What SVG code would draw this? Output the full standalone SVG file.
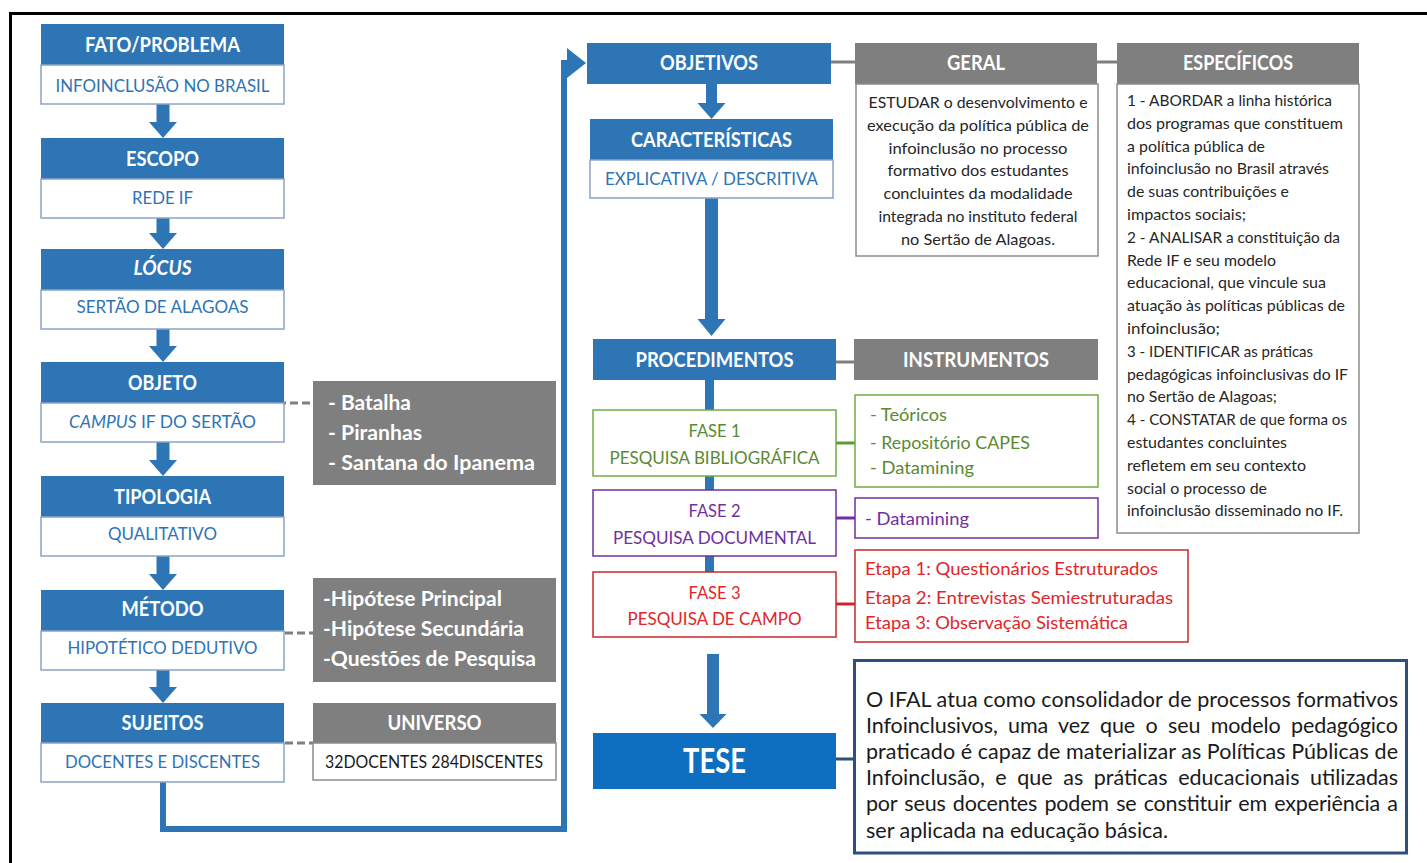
<svg xmlns="http://www.w3.org/2000/svg" width="1427" height="863" viewBox="0 0 1427 863">
<style>
.hdr{fill:#2e75b6}
.wbox{fill:#fff;stroke:#8aa4c6;stroke-width:1.5}
.gbox{fill:#7f7f7f}
.gwh{fill:#fff;stroke:#8c8c8c;stroke-width:1.5}
text{font-family:Lato,"Open Sans","Liberation Sans",sans-serif}
.ht{font-weight:700;font-size:20px;fill:#fff;text-anchor:middle}
.wt{font-size:18px;fill:#2e74b5;text-anchor:middle}
.gl{font-weight:700;font-size:20px;fill:#fff}
.body{font-size:16px;fill:#262626}
.tb{font-size:21.5px;fill:#1a1a1a}
.ctr{text-anchor:middle}
.barrow{fill:#2e75b6}
.dash{stroke:#7f7f7f;stroke-width:3;stroke-dasharray:8 4;fill:none}
.gline{stroke:#7f7f7f;stroke-width:3;fill:none}
.green{fill:#5a8a32}
.purple{fill:#7030a0}
.red{fill:#e0262a}
</style>
<rect x="10.5" y="13.5" width="1430" height="860" fill="none" stroke="#000" stroke-width="3"/>

<g id="connectors">
  <path d="M163,782 V829 H564 V63 H570" fill="none" stroke="#2e75b6" stroke-width="6"/>
  <polygon class="barrow" points="567,48 586,63 567,78"/>
  <polygon class="barrow" points="156.5,104 169.5,104 169.5,122 177,122 163,138 149,122 156.5,122"/>
  <polygon class="barrow" points="156.5,218 169.5,218 169.5,233 177,233 163,249 149,233 156.5,233"/>
  <polygon class="barrow" points="156.5,329 169.5,329 169.5,346 177,346 163,362 149,346 156.5,346"/>
  <polygon class="barrow" points="156.5,442 169.5,442 169.5,460 177,460 163,476 149,460 156.5,460"/>
  <polygon class="barrow" points="156.5,556 169.5,556 169.5,574 177,574 163,590 149,574 156.5,574"/>
  <polygon class="barrow" points="156.5,670 169.5,670 169.5,687 177,687 163,703 149,687 156.5,687"/>
  <polygon class="barrow" points="706,84 717,84 717,103 725.5,103 711.5,119 697.5,103 706,103"/>
  <polygon class="barrow" points="705,198 718,198 718,319 725.5,319 711.5,336 697.5,319 705,319"/>
  <polygon class="barrow" points="707,654 719,654 719,714 726.5,714 713,728 699.5,714 707,714"/>
  <line x1="709.5" y1="380" x2="709.5" y2="572" stroke="#2e75b6" stroke-width="9"/>
  <line class="dash" x1="266" y1="403" x2="313" y2="403"/>
  <line class="dash" x1="285" y1="633" x2="313" y2="633"/>
  <line class="dash" x1="285" y1="743" x2="358" y2="743"/>
  <line class="gline" x1="831" y1="62" x2="855" y2="62"/>
  <line class="gline" x1="1097" y1="62" x2="1117" y2="62"/>
  <line class="gline" x1="836" y1="362" x2="854" y2="362"/>
  <line x1="836" y1="443" x2="855" y2="443" stroke="#5e9a3a" stroke-width="3"/>
  <line x1="836" y1="518" x2="855" y2="518" stroke="#7030a0" stroke-width="3"/>
  <line x1="836" y1="604" x2="855" y2="604" stroke="#c8282d" stroke-width="3"/>
  <line x1="836" y1="759" x2="854" y2="759" stroke="#2f4f7f" stroke-width="3"/>
</g>

<g id="fato">
  <rect class="hdr" x="41" y="24" width="243" height="41"/>
  <rect class="wbox" x="41" y="65" width="243" height="39"/>
  <text class="ht" x="162.5" y="52" textLength="155" lengthAdjust="spacingAndGlyphs">FATO/PROBLEMA</text>
  <text class="wt" x="162.5" y="92" textLength="214" lengthAdjust="spacingAndGlyphs">INFOINCLUSÃO NO BRASIL</text>
</g>
<g id="escopo">
  <rect class="hdr" x="41" y="138" width="243" height="41"/>
  <rect class="wbox" x="41" y="179" width="243" height="39"/>
  <text class="ht" x="162.5" y="166" textLength="73" lengthAdjust="spacingAndGlyphs">ESCOPO</text>
  <text class="wt" x="162.5" y="204" textLength="61" lengthAdjust="spacingAndGlyphs">REDE IF</text>
</g>
<g id="locus">
  <rect class="hdr" x="41" y="249" width="243" height="41"/>
  <rect class="wbox" x="41" y="290" width="243" height="39"/>
  <text class="ht" x="162.5" y="275" font-style="italic" textLength="58" lengthAdjust="spacingAndGlyphs">LÓCUS</text>
  <text class="wt" x="162.5" y="313" textLength="172" lengthAdjust="spacingAndGlyphs">SERTÃO DE ALAGOAS</text>
</g>
<g id="objeto">
  <rect class="hdr" x="41" y="362" width="243" height="41"/>
  <rect class="wbox" x="41" y="403" width="243" height="39"/>
  <text class="ht" x="162.5" y="390" textLength="69" lengthAdjust="spacingAndGlyphs">OBJETO</text>
  <text class="wt" x="162.5" y="427.5" textLength="187" lengthAdjust="spacingAndGlyphs"><tspan font-style="italic">CAMPUS</tspan> IF DO SERTÃO</text>
</g>
<g id="tipologia">
  <rect class="hdr" x="41" y="476" width="243" height="41"/>
  <rect class="wbox" x="41" y="517" width="243" height="39"/>
  <text class="ht" x="162.5" y="504" textLength="97" lengthAdjust="spacingAndGlyphs">TIPOLOGIA</text>
  <text class="wt" x="162.5" y="539.5" textLength="109" lengthAdjust="spacingAndGlyphs">QUALITATIVO</text>
</g>
<g id="metodo">
  <rect class="hdr" x="41" y="590" width="243" height="41"/>
  <rect class="wbox" x="41" y="631" width="243" height="39"/>
  <text class="ht" x="162.5" y="616" textLength="82" lengthAdjust="spacingAndGlyphs">MÉTODO</text>
  <text class="wt" x="162.5" y="653.5" textLength="190" lengthAdjust="spacingAndGlyphs">HIPOTÉTICO DEDUTIVO</text>
</g>
<g id="sujeitos">
  <rect class="hdr" x="41" y="703" width="243" height="40"/>
  <rect class="wbox" x="41" y="743" width="243" height="39"/>
  <text class="ht" x="162.5" y="730" textLength="82" lengthAdjust="spacingAndGlyphs">SUJEITOS</text>
  <text class="wt" x="162.5" y="768" textLength="195" lengthAdjust="spacingAndGlyphs">DOCENTES E DISCENTES</text>
</g>

<g id="campi">
  <rect class="gbox" x="313" y="381" width="243" height="104"/>
  <text class="gl" x="328" y="410" textLength="83" lengthAdjust="spacingAndGlyphs">- Batalha</text>
  <text class="gl" x="328" y="440" textLength="94" lengthAdjust="spacingAndGlyphs">- Piranhas</text>
  <text class="gl" x="328" y="470" textLength="207" lengthAdjust="spacingAndGlyphs">- Santana do Ipanema</text>
</g>
<g id="hipoteses">
  <rect class="gbox" x="313" y="578" width="243" height="104"/>
  <text class="gl" x="323" y="606" textLength="179" lengthAdjust="spacingAndGlyphs">-Hipótese Principal</text>
  <text class="gl" x="323" y="636" textLength="201" lengthAdjust="spacingAndGlyphs">-Hipótese Secundária</text>
  <text class="gl" x="323" y="666" textLength="213" lengthAdjust="spacingAndGlyphs">-Questões de Pesquisa</text>
</g>
<g id="universo">
  <rect class="gbox" x="313" y="703" width="243" height="40"/>
  <rect class="gwh" x="313" y="743" width="243" height="37"/>
  <text class="ht" x="434.5" y="730" textLength="94" lengthAdjust="spacingAndGlyphs">UNIVERSO</text>
  <text x="325" y="768" font-size="17" fill="#1a1a1a" textLength="218" lengthAdjust="spacingAndGlyphs">32DOCENTES  284DISCENTES</text>
</g>

<g id="objetivos">
  <rect class="hdr" x="587" y="43" width="244" height="41"/>
  <text class="ht" x="709" y="70" textLength="98" lengthAdjust="spacingAndGlyphs">OBJETIVOS</text>
</g>
<g id="caracteristicas">
  <rect class="hdr" x="590" y="119" width="243" height="41"/>
  <rect class="wbox" x="590" y="160" width="243" height="38"/>
  <text class="ht" x="711.5" y="147" textLength="161" lengthAdjust="spacingAndGlyphs">CARACTERÍSTICAS</text>
  <text class="wt" x="711.5" y="184.5" textLength="213" lengthAdjust="spacingAndGlyphs">EXPLICATIVA / DESCRITIVA</text>
</g>
<g id="geral">
  <rect class="gbox" x="855" y="43" width="242" height="41"/>
  <rect class="gwh" x="856" y="84" width="242" height="172"/>
  <text class="ht" x="976" y="70" textLength="58" lengthAdjust="spacingAndGlyphs">GERAL</text>
  <text class="body ctr" x="978" y="108" textLength="219" lengthAdjust="spacingAndGlyphs">ESTUDAR o desenvolvimento e</text>
  <text class="body ctr" x="978" y="130.8" textLength="222" lengthAdjust="spacingAndGlyphs">execução da política pública de</text>
  <text class="body ctr" x="978" y="153.6" textLength="179" lengthAdjust="spacingAndGlyphs">infoinclusão no processo</text>
  <text class="body ctr" x="978" y="176.4" textLength="181" lengthAdjust="spacingAndGlyphs">formativo dos estudantes</text>
  <text class="body ctr" x="978" y="199.2" textLength="189" lengthAdjust="spacingAndGlyphs">concluintes da modalidade</text>
  <text class="body ctr" x="978" y="222" textLength="199" lengthAdjust="spacingAndGlyphs">integrada no instituto federal</text>
  <text class="body ctr" x="978" y="244.8" textLength="154" lengthAdjust="spacingAndGlyphs">no Sertão de Alagoas.</text>
</g>
<g id="especificos">
  <rect class="gbox" x="1117" y="43" width="242" height="41"/>
  <rect class="gwh" x="1117" y="84" width="242" height="449"/>
  <text class="ht" x="1238" y="70" textLength="110" lengthAdjust="spacingAndGlyphs">ESPECÍFICOS</text>
  <text class="body" x="1127" y="106" textLength="205" lengthAdjust="spacingAndGlyphs">1 - ABORDAR a linha histórica</text>
  <text class="body" x="1127" y="128.8" textLength="216" lengthAdjust="spacingAndGlyphs">dos programas que constituem</text>
  <text class="body" x="1127" y="151.6" textLength="138" lengthAdjust="spacingAndGlyphs">a política pública de</text>
  <text class="body" x="1127" y="174.4" textLength="202" lengthAdjust="spacingAndGlyphs">infoinclusão no Brasil através</text>
  <text class="body" x="1127" y="197.2" textLength="162" lengthAdjust="spacingAndGlyphs">de suas contribuições e</text>
  <text class="body" x="1127" y="220" textLength="119" lengthAdjust="spacingAndGlyphs">impactos sociais;</text>
  <text class="body" x="1127" y="242.8" textLength="213" lengthAdjust="spacingAndGlyphs">2 - ANALISAR a constituição da</text>
  <text class="body" x="1127" y="265.6" textLength="149" lengthAdjust="spacingAndGlyphs">Rede IF e seu modelo</text>
  <text class="body" x="1127" y="288.4" textLength="199" lengthAdjust="spacingAndGlyphs">educacional, que vincule sua</text>
  <text class="body" x="1127" y="311.2" textLength="218" lengthAdjust="spacingAndGlyphs">atuação às políticas públicas de</text>
  <text class="body" x="1127" y="334" textLength="93" lengthAdjust="spacingAndGlyphs">infoinclusão;</text>
  <text class="body" x="1127" y="356.8" textLength="186" lengthAdjust="spacingAndGlyphs">3 - IDENTIFICAR as práticas</text>
  <text class="body" x="1127" y="379.6" textLength="221" lengthAdjust="spacingAndGlyphs">pedagógicas infoinclusivas do IF</text>
  <text class="body" x="1127" y="402.4" textLength="150" lengthAdjust="spacingAndGlyphs">no Sertão de Alagoas;</text>
  <text class="body" x="1127" y="425.2" textLength="220" lengthAdjust="spacingAndGlyphs">4 - CONSTATAR de que forma os</text>
  <text class="body" x="1127" y="448" textLength="160" lengthAdjust="spacingAndGlyphs">estudantes concluintes</text>
  <text class="body" x="1127" y="470.8" textLength="179" lengthAdjust="spacingAndGlyphs">refletem em seu contexto</text>
  <text class="body" x="1127" y="493.6" textLength="140" lengthAdjust="spacingAndGlyphs">social o processo de</text>
  <text class="body" x="1127" y="516.4" textLength="216" lengthAdjust="spacingAndGlyphs">infoinclusão disseminado no IF.</text>
</g>

<g id="procedimentos">
  <rect class="hdr" x="593" y="339" width="243" height="41"/>
  <text class="ht" x="714.5" y="367" textLength="158" lengthAdjust="spacingAndGlyphs">PROCEDIMENTOS</text>
</g>
<g id="instrumentos">
  <rect class="gbox" x="854" y="339" width="244" height="41"/>
  <text class="ht" x="976" y="367" textLength="146" lengthAdjust="spacingAndGlyphs">INSTRUMENTOS</text>
</g>
<g id="fase1">
  <rect x="593" y="410" width="243" height="66" fill="#fff" stroke="#70ad47" stroke-width="1.5"/>
  <text class="green ctr" x="714.5" y="436.5" font-size="18" textLength="52" lengthAdjust="spacingAndGlyphs">FASE 1</text>
  <text class="green ctr" x="714.5" y="463.5" font-size="18" textLength="210" lengthAdjust="spacingAndGlyphs">PESQUISA BIBLIOGRÁFICA</text>
</g>
<g id="fase1-instr">
  <rect x="855" y="395" width="243" height="92" fill="#fff" stroke="#70ad47" stroke-width="1.5"/>
  <text class="green" x="870" y="420.5" font-size="18" textLength="77" lengthAdjust="spacingAndGlyphs">- Teóricos</text>
  <text class="green" x="870" y="448.5" font-size="18" textLength="160" lengthAdjust="spacingAndGlyphs">- Repositório CAPES</text>
  <text class="green" x="870" y="473.5" font-size="18" textLength="104" lengthAdjust="spacingAndGlyphs">- Datamining</text>
</g>
<g id="fase2">
  <rect x="593" y="490" width="243" height="66" fill="#fff" stroke="#7030a0" stroke-width="1.5"/>
  <text class="purple ctr" x="714.5" y="516.5" font-size="18" textLength="52" lengthAdjust="spacingAndGlyphs">FASE 2</text>
  <text class="purple ctr" x="714.5" y="543.5" font-size="18" textLength="203" lengthAdjust="spacingAndGlyphs">PESQUISA DOCUMENTAL</text>
</g>
<g id="fase2-instr">
  <rect x="855" y="498" width="243" height="40" fill="#fff" stroke="#7030a0" stroke-width="1.5"/>
  <text class="purple" x="865" y="524.5" font-size="18" textLength="104" lengthAdjust="spacingAndGlyphs">- Datamining</text>
</g>
<g id="fase3">
  <rect x="593" y="572" width="243" height="65" fill="#fff" stroke="#c8282d" stroke-width="1.5"/>
  <text class="red ctr" x="714.5" y="598.5" font-size="18" textLength="52" lengthAdjust="spacingAndGlyphs">FASE 3</text>
  <text class="red ctr" x="714.5" y="624.5" font-size="18" textLength="174" lengthAdjust="spacingAndGlyphs">PESQUISA DE CAMPO</text>
</g>
<g id="fase3-etapas">
  <rect x="855" y="550" width="333" height="92" fill="#fff" stroke="#c8282d" stroke-width="1.5"/>
  <text class="red" x="865" y="574.5" font-size="18" textLength="293" lengthAdjust="spacingAndGlyphs">Etapa 1: Questionários Estruturados</text>
  <text class="red" x="865" y="603.5" font-size="18" textLength="308" lengthAdjust="spacingAndGlyphs">Etapa 2: Entrevistas Semiestruturadas</text>
  <text class="red" x="865" y="628.5" font-size="18" textLength="263" lengthAdjust="spacingAndGlyphs">Etapa 3: Observação Sistemática</text>
</g>
<g id="tese">
  <rect x="593" y="733" width="243" height="56" fill="#0e6ec0"/>
  <text class="ctr" x="714.5" y="773" font-size="34" font-weight="700" fill="#fff" textLength="63" lengthAdjust="spacingAndGlyphs">TESE</text>
</g>
<g id="tese-texto">
  <rect x="854.5" y="660.5" width="552" height="192.5" fill="#fff" stroke="#2f4f7f" stroke-width="3"/>
  <text class="tb" x="866" y="707" textLength="532" lengthAdjust="spacing">O IFAL atua como consolidador de processos formativos</text>
  <text class="tb" x="866" y="733" word-spacing="5" textLength="532" lengthAdjust="spacing">Infoinclusivos, uma vez que o seu modelo pedagógico</text>
  <text class="tb" x="866" y="759" textLength="532" lengthAdjust="spacing">praticado é capaz de materializar as Políticas Públicas de</text>
  <text class="tb" x="866" y="785" word-spacing="5" textLength="532" lengthAdjust="spacing">Infoinclusão, e que as práticas educacionais utilizadas</text>
  <text class="tb" x="866" y="811" word-spacing="2" textLength="532" lengthAdjust="spacing">por seus docentes podem se constituir em experiência a</text>
  <text class="tb" x="866" y="838">ser aplicada na educação básica.</text>
</g>
</svg>
